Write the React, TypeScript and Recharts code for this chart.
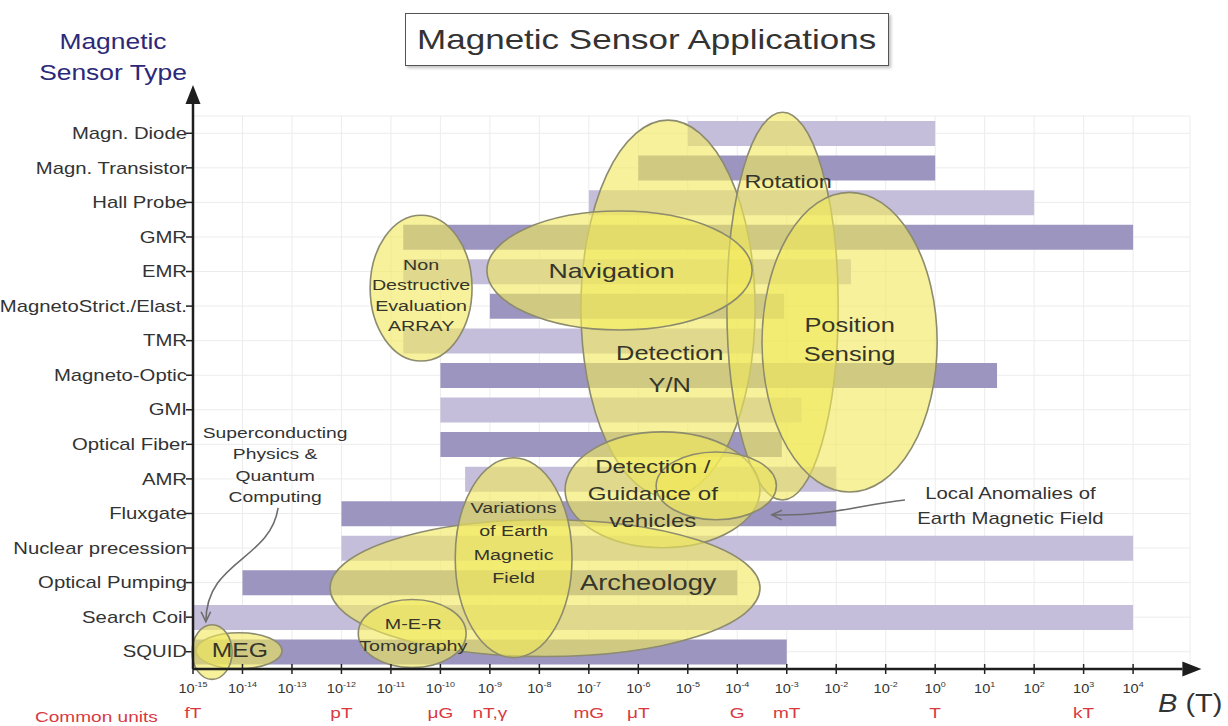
import React from "react"
import {
  ComposedChart, Bar, Cell, XAxis, YAxis, CartesianGrid,
  ReferenceArea, ReferenceLine, ReferenceDot,
} from "recharts"

// ── data: field range (log10 of B in tesla) covered by each sensor type ─────────
const SENSORS = [
  "Magn. Diode", "Magn. Transistor", "Hall Probe", "GMR", "EMR",
  "MagnetoStrict./Elast.", "TMR", "Magneto-Optic", "GMI", "Optical Fiber",
  "AMR", "Fluxgate", "Nuclear precession", "Optical Pumping", "Search Coil", "SQUID",
]
const LOW  = [-5, -6, -7, -10.75, -10.75, -9, -10.75, -10, -10, -10, -9.5, -12, -12, -14, -15, -15]
const HIGH = [0, 0, 2, 4, -1.7, -3.05, -3.5, 1.25, -2.7, -3.1, -2, -2, 4, -4, 4, -3]

const TICKS = [-15, -14, -13, -12, -11, -10, -9, -8, -7, -6, -5, -4, -3, -2, -1, 0, 1, 2, 3, 4]
const TICK_EXP = ["-15", "-14", "-13", "-12", "-11", "-10", "-9", "-8", "-7", "-6", "-5", "-4", "-3", "-2", "-2", "0", "1", "2", "3", "4"]

const UNIT_TICKS = [-15, -12, -10, -9, -7, -6, -4, -3, 0, 3]
const UNIT_LABELS = ["fT", "pT", "μG", "nT,γ", "mG", "μT", "G", "mT", "T", "kT"]

// application zones: x in decades, y in sensor rows (0 = top row)
const ZONES = [
  { lines: ["Detection", "Y/N"], x1: -7.16, x2: -3.64, y1: -0.38, y2: 10.52 },
  { lines: ["Rotation"], x1: -4.21, x2: -1.96, y1: -0.61, y2: 10.61 },
  { lines: ["Position", "Sensing"], x1: -3.5, x2: 0.04, y1: 1.71, y2: 10.38 },
  { lines: ["Navigation"], x1: -9.06, x2: -3.7, y1: 2.25, y2: 5.69 },
  { lines: ["Non", "Destructive", "Evaluation", "ARRAY"], x1: -11.42, x2: -9.36, y1: 2.37, y2: 6.59 },
  { lines: ["Detection /", "Guidance of", "vehicles"], x1: -7.48, x2: -3.54, y1: 8.64, y2: 11.99 },
  { lines: [], x1: -5.64, x2: -3.21, y1: 9.22, y2: 11.18 },
  { lines: ["Archeology"], x1: -12.23, x2: -3.54, y1: 11.18, y2: 15.14 },
  { lines: ["Variations", "of Earth", "Magnetic", "Field"], x1: -9.7, x2: -7.34, y1: 9.39, y2: 15.17 },
  { lines: ["M-E-R", "Tomography"], x1: -11.66, x2: -9.48, y1: 13.49, y2: 15.46 },
  { lines: ["MEG"], x1: -14.94, x2: -13.2, y1: 14.45, y2: 15.49 },
  { lines: [], x1: -15.02, x2: -14.21, y1: 14.22, y2: 15.8 },
]
// label placement inside each zone (fraction of box) and font size
const ZONE_TEXT = [
  { fx: 0.51, fy: 0.66, size: 20, gap: 32 },
  { fx: 0.55, fy: 0.178, size: 18.5, gap: 22 },
  { fx: 0.5, fy: 0.49, size: 20, gap: 29 },
  { fx: 0.47, fy: 0.5, size: 21, gap: 26 },
  { fx: 0.5, fy: 0.55, size: 15.5, gap: 20.5 },
  { fx: 0.45, fy: 0.53, size: 19, gap: 27 },
  { fx: 0.5, fy: 0.5, size: 15, gap: 20 },
  { fx: 0.74, fy: 0.46, size: 21.5, gap: 26 },
  { fx: 0.5, fy: 0.425, size: 15.5, gap: 23.3 },
  { fx: 0.51, fy: 0.51, size: 15.5, gap: 22 },
  { fx: 0.51, fy: 0.5, size: 19.5, gap: 26 },
  { fx: 0.5, fy: 0.5, size: 15, gap: 20 },
]

const NOTES = [
  { lines: ["Superconducting", "Physics &", "Quantum", "Computing"], x: -13.34, y: 9.59,
    tailX: -13.28, tailY: 10.84, headX: -14.74, headY: 14.13, c: [0.89, 0.46, 0, 0.46] },
  { lines: ["Local Anomalies of", "Earth Magnetic Field"], x: 1.52, y: 10.78,
    tailX: -0.61, tailY: 10.61, headX: -3.3, headY: 11.04, c: [0.66, 0.33, 0.44, 1.1] },
]
const NOTE_SIZE = [15.2, 16]

const DARK = "#9c95c0"
const LIGHT = "#c4bedb"
const TXT = "#333333"
const SX = 1.27 // the original lettering is horizontally stretched

const rows = SENSORS.map((name, i) => ({ name, range: [LOW[i], HIGH[i]], pos: i }))

function SText({ x, y, sx = SX, children, ...rest }: any) {
  return (
    <text transform={`translate(${x},${y}) scale(${sx},1)`} x={0} y={0} {...rest}>{children}</text>
  )
}

function XTick(props: any) {
  const { x, y, index } = props
  return (
    <g>
      <line x1={x} y1={y - 13} x2={x} y2={y - 3} stroke="#222" strokeWidth={1.5} />
      <SText x={x} y={y + 16} sx={1.12} textAnchor="middle" fill={TXT}>
        <tspan fontSize={13}>10</tspan>
        <tspan fontSize={8} dy={-6}>{TICK_EXP[index]}</tspan>
      </SText>
    </g>
  )
}

function UnitTick(props: any) {
  const { x, y, index } = props
  return (
    <SText x={x} y={y + 13} textAnchor="middle" fontSize={15} fill="#d9383f">
      {UNIT_LABELS[index]}
    </SText>
  )
}

function YTick(props: any) {
  const { x, y, payload } = props
  return (
    <SText x={x + 1} y={y} textAnchor="end" dominantBaseline="central" fontSize={16} fill={TXT}>
      {payload.value}
    </SText>
  )
}

function Arrow(props: any) {
  const { x1, y1, x2, y2 } = props
  if (x1 == null) return null
  const a = Math.atan2(y2 - y1, x2 - x1)
  const L = 19, W = 7.5
  const bx = x2 - L * Math.cos(a), by = y2 - L * Math.sin(a)
  const px = -Math.sin(a) * W, py = Math.cos(a) * W
  return (
    <g>
      <line x1={x1} y1={y1} x2={bx} y2={by} stroke="#1e1e1e" strokeWidth={2.5} />
      <polygon points={`${x2},${y2} ${bx + px},${by + py} ${bx - px},${by - py}`} fill="#1e1e1e" />
    </g>
  )
}

function ZoneShape(props: any) {
  const { x, y, width, height } = props
  if (x == null) return null
  return (
    <ellipse cx={x + width / 2} cy={y + height / 2} rx={width / 2} ry={height / 2}
      fill="#f0e95c" fillOpacity={0.62} stroke="#8d8b6e" strokeWidth={1.6} />
  )
}

function ZoneLabel(props: any) {
  const { x, y, width, height, idx } = props
  if (x == null) return null
  const z = ZONES[idx]
  const t = ZONE_TEXT[idx]
  const cx = x + width * t.fx
  const cy = y + height * t.fy - ((z.lines.length - 1) * t.gap) / 2
  return (
    <g>
      {z.lines.map((l, k) => (
        <SText key={k} x={cx} y={cy + k * t.gap} textAnchor="middle" dominantBaseline="central"
          fontSize={t.size} fill="#35352a">{l}</SText>
      ))}
    </g>
  )
}

function NoteArrow(props: any) {
  const { x, y, width, height, idx } = props
  if (x == null) return null
  const c = NOTES[idx].c
  const left = x, top = y, right = x + width, bottom = y + height
  const c1x = left + c[0] * width, c1y = top + c[1] * height
  const c2x = left + c[2] * width, c2y = top + c[3] * height
  const a = Math.atan2(bottom - c2y, left - c2x)
  const L = 11, s = 0.45
  const p1 = `${left - L * Math.cos(a - s)},${bottom - L * Math.sin(a - s)}`
  const p2 = `${left - L * Math.cos(a + s)},${bottom - L * Math.sin(a + s)}`
  return (
    <g fill="none" stroke="#6d6d6d" strokeWidth={1.6}>
      <path d={`M${right},${top} C${c1x},${c1y} ${c2x},${c2y} ${left},${bottom}`} />
      <polyline points={`${p1} ${left},${bottom} ${p2}`} />
    </g>
  )
}

function NoteText(props: any) {
  const { cx, cy, idx } = props
  if (cx == null) return null
  const n = NOTES[idx]
  const gap = n.lines.length > 2 ? 21.5 : 25
  const top = cy - ((n.lines.length - 1) * gap) / 2
  return (
    <g>
      {n.lines.map((l, k) => (
        <SText key={k} x={cx} y={top + k * gap} textAnchor="middle" dominantBaseline="central"
          fontSize={NOTE_SIZE[idx]} fill={TXT}>{l}</SText>
      ))}
    </g>
  )
}

export default function App() {
  const half = 553 / 16 / 2
  return (
    <div style={{ position: "absolute", left: 0, top: 0, width: 1228, height: 726, background: "#fff",
      fontFamily: "'Liberation Sans', Arial, sans-serif", overflow: "hidden" }}>
      <ComposedChart width={1228} height={726} data={rows} layout="vertical"
        margin={{ top: 116, right: 38, bottom: 3, left: 0 }}>
        <CartesianGrid xAxisId="x" yAxisId="cat" stroke="#ececec" />
        <XAxis xAxisId="x" type="number" domain={[-15, 5.15]} ticks={TICKS} interval={0}
          allowDataOverflow height={28} axisLine={false} tickLine={false} tick={<XTick />} />
        <XAxis xAxisId="zu" type="number" domain={[-15, 5.15]} ticks={UNIT_TICKS} interval={0}
          allowDataOverflow height={26} axisLine={false} tickLine={false} tick={<UnitTick />} />
        <YAxis yAxisId="cat" type="category" dataKey="name" width={193} interval={0}
          axisLine={false} tickSize={7} tickMargin={0}
          tickLine={{ stroke: "#222", strokeWidth: 1.5 }} tick={<YTick />} />
        <YAxis yAxisId="num" type="number" dataKey="pos" domain={[0, 15]} hide allowDataOverflow
          padding={{ top: half, bottom: half }} />

        <Bar xAxisId="x" yAxisId="cat" dataKey="range" barSize={25} isAnimationActive={false}>
          {rows.map((r, i) => <Cell key={r.name} fill={i % 2 === 0 ? LIGHT : DARK} />)}
        </Bar>

        {ZONES.map((z, i) => (
          <ReferenceArea key={i} xAxisId="x" yAxisId="num" x1={z.x1} x2={z.x2} y1={z.y1} y2={z.y2}
            ifOverflow="visible" zIndex={900} shape={(p: any) => <ZoneShape {...p} />} />
        ))}
        {ZONES.map((z, i) => (
          <ReferenceArea key={"zl" + i} xAxisId="x" yAxisId="num" x1={z.x1} x2={z.x2} y1={z.y1} y2={z.y2}
            ifOverflow="visible" zIndex={940} shape={(p: any) => <ZoneLabel {...p} idx={i} />} />
        ))}

        {NOTES.map((n, i) => (
          <ReferenceArea key={"na" + i} xAxisId="x" yAxisId="num" x1={n.headX} x2={n.tailX}
            y1={n.tailY} y2={n.headY} ifOverflow="visible" zIndex={950}
            shape={(p: any) => <NoteArrow {...p} idx={i} />} />
        ))}
        {NOTES.map((n, i) => (
          <ReferenceDot key={"nt" + i} xAxisId="x" yAxisId="num" x={n.x} y={n.y} r={0}
            ifOverflow="visible" zIndex={950}
            shape={(p: any) => <NoteText {...p} idx={i} />} />
        ))}

        <ReferenceLine xAxisId="x" yAxisId="num" ifOverflow="visible" zIndex={960}
          segment={[{ x: -15, y: 15.5 }, { x: 5.38, y: 15.5 }]} shape={(p: any) => <Arrow {...p} />} />
        <ReferenceLine xAxisId="x" yAxisId="num" ifOverflow="visible" zIndex={960}
          segment={[{ x: -15, y: 15.5 }, { x: -15, y: -1.4 }]} shape={(p: any) => <Arrow {...p} />} />
      </ComposedChart>

      <div style={{ position: "absolute", left: 48, top: 26, width: 130, textAlign: "center",
        color: "#2c2979", fontSize: 22, lineHeight: "31px", transform: "scaleX(1.2)" }}>
        Magnetic<br />Sensor Type
      </div>
      <div style={{ position: "absolute", left: 405, top: 13, width: 482, height: 51,
        border: "1.5px solid #555", boxShadow: "2px 2px 3px rgba(0,0,0,0.25)", background: "#fff",
        display: "flex", alignItems: "center", justifyContent: "center", fontSize: 28, color: TXT }}>
        <span style={{ display: "inline-block", transform: "scaleX(1.25)" }}>Magnetic Sensor Applications</span>
      </div>
      <div style={{ position: "absolute", left: 1158, top: 689, fontSize: 25, color: TXT, whiteSpace: "nowrap",
        transform: "scaleX(1.16)", transformOrigin: "left center" }}>
        <i>B</i> (T)
      </div>
      <div style={{ position: "absolute", left: 35, top: 708, fontSize: 15, color: "#d9383f",
        transform: "scaleX(1.27)", transformOrigin: "left center" }}>
        Common units
      </div>
    </div>
  )
}
